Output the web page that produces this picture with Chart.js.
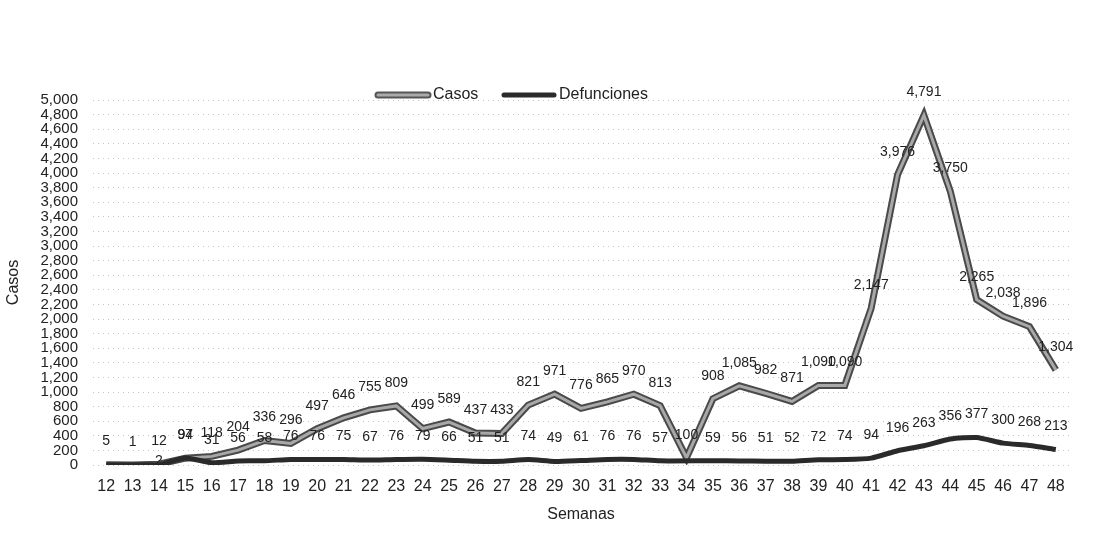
<!DOCTYPE html>
<html>
<head>
<meta charset="utf-8">
<script src="https://cdn.jsdelivr.net/npm/chart.js@4.4.0/dist/chart.umd.min.js"></script>
<style>
  html, body { margin: 0; padding: 0; background: #fff; }
  #wrap { width: 1115px; height: 550px; position: relative; }
</style>
</head>
<body>
<div id="wrap"><canvas id="myChart"></canvas></div>
<script>
// weeks 12..48
const semanas = [12,13,14,15,16,17,18,19,20,21,22,23,24,25,26,27,28,29,30,31,32,33,34,35,36,37,38,39,40,41,42,43,44,45,46,47,48];
const casos = [5,1,12,94,118,204,336,296,497,646,755,809,499,589,437,433,821,971,776,865,970,813,100,908,1085,982,871,1090,1090,2147,3976,4791,3750,2265,2038,1896,1304];
// week 34 death count not readable (label hidden under the dip), left as a gap
const defunciones = [0,0,2,97,31,56,58,76,76,75,67,76,79,66,51,51,74,49,61,76,76,57,null,59,56,51,52,72,74,94,196,263,356,377,300,268,213];
const yTicksMax = 5000;
const yTicksStep = 200;

const FONT = "'Liberation Sans', Arial, sans-serif";
const fmt = v => v.toLocaleString('en-US');

// data labels + legend drawn by hand (no datalabels plugin available)
const labelPlugin = {
    id: 'labels',
    afterDatasetsDraw(chart) {
        const ctx = chart.ctx;
        ctx.save();
        ctx.font = '14px ' + FONT;
        ctx.fillStyle = '#222';
        ctx.textAlign = 'center';
        ctx.textBaseline = 'middle';
        const casosPts = chart.getDatasetMeta(1).data;
        casosPts.forEach((p, i) => {
            ctx.fillText(fmt(casos[i]), p.x, p.y - 23);
        });
        chart.getDatasetMeta(2).data.forEach((p, i) => {
            const v = defunciones[i];
            if (!v) return;
            let y = p.y - 23;
            // tiny values: drop under the casos label instead of on top of it
            if (v < 10 && Math.abs(casosPts[i].y - 23 - y) < 12) y = p.y - 4;
            ctx.fillText(fmt(v), p.x, y);
        });
        ctx.restore();
    },
    afterDraw(chart) {
        const ctx = chart.ctx;
        ctx.save();
        ctx.lineCap = 'round';
        const y = 95;
        // Casos sample
        ctx.strokeStyle = '#555'; ctx.lineWidth = 7;
        ctx.beginPath(); ctx.moveTo(378, y); ctx.lineTo(428, y); ctx.stroke();
        ctx.strokeStyle = '#aaa'; ctx.lineWidth = 3;
        ctx.beginPath(); ctx.moveTo(378, y); ctx.lineTo(428, y); ctx.stroke();
        // Defunciones sample
        ctx.strokeStyle = '#2a2a2a'; ctx.lineWidth = 5;
        ctx.beginPath(); ctx.moveTo(504, y); ctx.lineTo(554, y); ctx.stroke();
        ctx.font = '16px ' + FONT;
        ctx.fillStyle = '#222';
        ctx.textBaseline = 'middle';
        ctx.fillText('Casos', 433, y);
        ctx.fillText('Defunciones', 559, y);
        ctx.restore();
    }
};

const ctx = document.getElementById('myChart').getContext('2d');
new Chart(ctx, {
    type: 'line',
    data: {
        labels: semanas,
        datasets: [
            { label: 'Casos-outline', data: casos, borderColor: '#4a4a4a', borderWidth: 7, pointRadius: 0, tension: 0, order: 3 },
            { label: 'Casos', data: casos, borderColor: '#a8a8a8', borderWidth: 3, pointRadius: 0, tension: 0, order: 2 },
            { label: 'Defunciones', data: defunciones, borderColor: '#2a2a2a', borderWidth: 5, pointRadius: 0, tension: 0.2, spanGaps: true, order: 1 }
        ]
    },
    options: {
        responsive: true, maintainAspectRatio: false, animation: false,
        layout: { padding: { top: 100, right: 46, bottom: 0, left: 0 } },
        plugins: { legend: { display: false }, tooltip: { enabled: false } },
        scales: {
            x: {
                offset: true,
                grid: { display: false, drawTicks: false },
                border: { display: false },
                ticks: { color: '#222', font: { family: FONT, size: 16 }, padding: 12, autoSkip: false, maxRotation: 0 },
                title: { display: true, text: 'Semanas', color: '#222', font: { family: FONT, size: 16 }, padding: { top: 0, bottom: 26 } },
                afterFit: s => { s.height = 85; }
            },
            y: {
                min: 0, max: yTicksMax,
                grid: { color: '#c4c4c4', lineWidth: 1, drawTicks: false },
                border: { display: false, dash: [1, 4] },
                ticks: { stepSize: yTicksStep, autoSkip: false, color: '#222', font: { family: FONT, size: 15 }, padding: 15, callback: v => fmt(v) },
                title: { display: true, text: 'Casos', color: '#222', font: { family: FONT, size: 16 }, padding: { top: 4, bottom: 0 } },
                afterFit: s => { s.width = 93; }
            }
        }
    },
    plugins: [labelPlugin]
});
</script>
</body>
</html>
